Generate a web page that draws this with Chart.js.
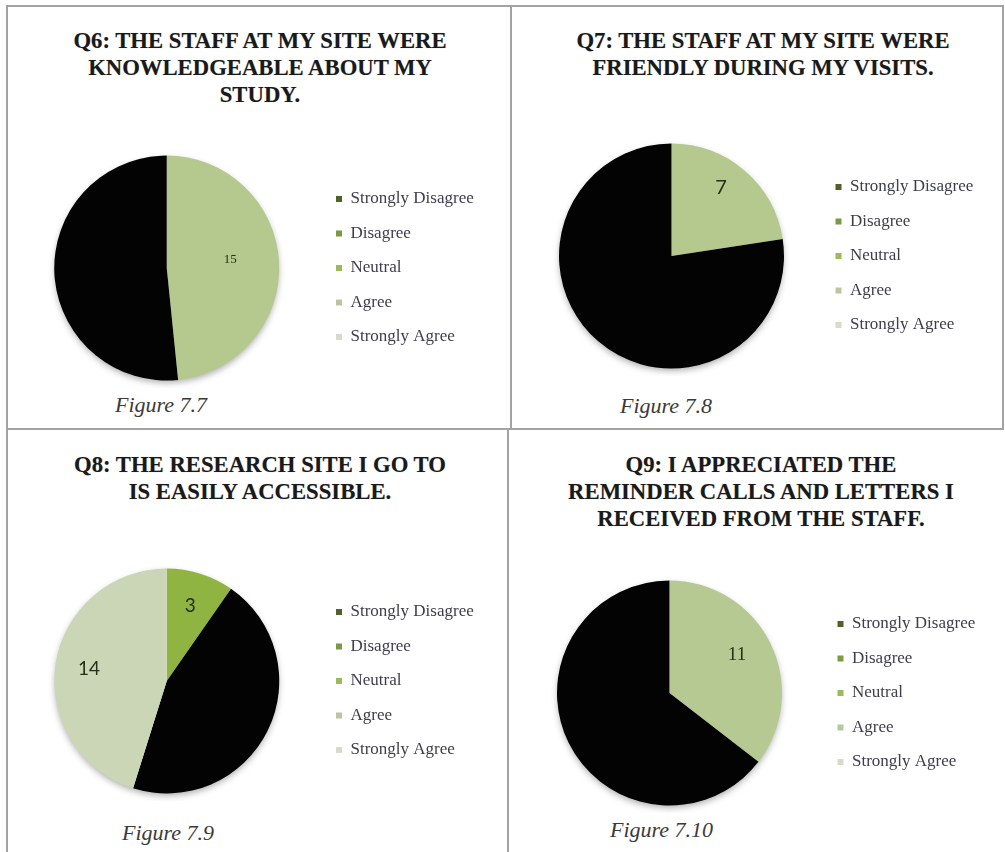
<!DOCTYPE html>
<html>
<head>
<meta charset="utf-8">
<script src="https://cdn.jsdelivr.net/npm/chart.js@4"></script>
<style>
  html, body { margin: 0; padding: 0; background: #fff; }
  #page { position: relative; width: 1005px; height: 852px; overflow: hidden; background: #fff; }
  .rule { position: absolute; background: #a3a3a3; }
  .title {
    position: absolute; width: 500px; text-align: center;
    font: bold 22.7px/27px "Liberation Serif", "Times New Roman", serif;
    color: #1a1a1a; text-shadow: 0 0 1px rgba(0,0,0,0.3);
  }
  .caption {
    position: absolute; white-space: nowrap;
    font: italic 22px/22px "Liberation Serif", "Times New Roman", serif;
    color: #3a3a3a;
  }
  canvas { position: absolute; }
</style>
</head>
<body>
<div id="page">
  <!-- frame lines -->
  <div class="rule" style="left:6px; top:5px; width:2px; height:847px;"></div>
  <div class="rule" style="left:6px; top:5px; width:998px; height:2px;"></div>
  <div class="rule" style="left:1002px; top:5px; width:2px; height:424px;"></div>
  <div class="rule" style="left:510px; top:5px; width:2px; height:424px;"></div>
  <div class="rule" style="left:507px; top:428px; width:2px; height:424px;"></div>
  <div class="rule" style="left:6px; top:428px; width:998px; height:2px;"></div>

  <div class="title" id="t6" style="left:10px; top:27px;"></div>
  <div class="title" id="t7" style="left:513px; top:27px;"></div>
  <div class="title" id="t8" style="left:10px; top:451px;"></div>
  <div class="title" id="t9" style="left:511px; top:451px;"></div>

  <canvas id="c6" width="480" height="240" style="left:15px; top:148px;"></canvas>
  <canvas id="c7" width="470" height="240" style="left:525px; top:136px;"></canvas>
  <canvas id="c8" width="480" height="240" style="left:15px; top:561px;"></canvas>
  <canvas id="c9" width="478" height="240" style="left:519px; top:573px;"></canvas>

  <div class="caption" id="f6" style="left:115px; top:394px;"></div>
  <div class="caption" id="f7" style="left:620px; top:395px;"></div>
  <div class="caption" id="f8" style="left:122px; top:822px;"></div>
  <div class="caption" id="f9" style="left:610px; top:819px;"></div>
</div>

<script>
// ─── Data ─────────────────────────────────────────────
const categories = ['Strongly Disagree', 'Disagree', 'Neutral', 'Agree', 'Strongly Agree'];

const q6Values = [0, 0, 0, 15, 16];
const q7Values = [0, 0, 0, 7, 24];
const q8Values = [0, 0, 3, 14, 14];
const q9Values = [0, 0, 0, 11, 20];

const q6Title = ['Q6: THE STAFF AT MY SITE WERE', 'KNOWLEDGEABLE ABOUT MY', 'STUDY.'];
const q7Title = ['Q7: THE STAFF AT MY SITE WERE', 'FRIENDLY DURING MY VISITS.'];
const q8Title = ['Q8: THE RESEARCH SITE I GO TO', 'IS EASILY ACCESSIBLE.'];
const q9Title = ['Q9: I APPRECIATED THE', 'REMINDER CALLS AND LETTERS I', 'RECEIVED FROM THE STAFF.'];

const captions = ['Figure 7.7', 'Figure 7.8', 'Figure 7.9', 'Figure 7.10'];

// ─── Colours ──────────────────────────────────────────
const BLACK = '#030303';
const legendColors = ['#4f6228', '#7a9a44', '#9bbb59', '#b9c7a0', '#d5dcc8'];

const q6Colors = ['#4f6228', '#77933c', '#9bbb59', '#b5c98f', BLACK];
const q7Colors = ['#4f6228', '#77933c', '#9bbb59', '#b5c98f', BLACK];
const q8Colors = ['#4f6228', '#77933c', '#8fb441', BLACK, '#cbd6b6'];
const q9Colors = ['#4f6228', '#77933c', '#9bbb59', '#b6c992', BLACK];

// ─── Text ─────────────────────────────────────────────
document.getElementById('t6').innerHTML = q6Title.join('<br>');
document.getElementById('t7').innerHTML = q7Title.join('<br>');
document.getElementById('t8').innerHTML = q8Title.join('<br>');
document.getElementById('t9').innerHTML = q9Title.join('<br>');
['f6', 'f7', 'f8', 'f9'].forEach((id, i) => {
    document.getElementById(id).textContent = captions[i];
});

// ─── Plugins ──────────────────────────────────────────
// keep the legend column the same width on every chart
const fixedLegendWidth = {
    id: 'fixedLegendWidth',
    beforeInit(chart, args, opts) {
        const legend = chart.legend;
        if (!legend) return;
        const fit = legend.fit;
        legend.fit = function () {
            fit.call(this);
            this.width = opts.width;
        };
    },
};

// soft shadow under the pie + value labels on the coloured slices
const sliceLabels = {
    id: 'sliceLabels',
    beforeDatasetsDraw(chart) {
        const arc = chart.getDatasetMeta(0).data[0];
        if (!arc) return;
        const ctx = chart.ctx;
        ctx.save();
        ctx.shadowColor = 'rgba(0,0,0,0.35)';
        ctx.shadowBlur = 7;
        ctx.shadowOffsetY = 3;
        ctx.fillStyle = '#ffffff';
        ctx.beginPath();
        ctx.arc(arc.x, arc.y, arc.outerRadius - 1, 0, Math.PI * 2);
        ctx.fill();
        ctx.restore();
    },
    afterDatasetsDraw(chart, args, opts) {
        const ctx  = chart.ctx;
        const ds   = chart.data.datasets[0];
        const meta = chart.getDatasetMeta(0);
        ctx.save();
        ctx.font = opts.font;
        ctx.fillStyle = opts.color;
        ctx.textAlign = 'center';
        ctx.textBaseline = 'middle';
        meta.data.forEach((arc, i) => {
            const v = ds.data[i];
            if (!v || ds.backgroundColor[i] === BLACK) return;
            const mid = (arc.startAngle + arc.endAngle) / 2 + opts.shift;
            const r = arc.outerRadius * opts.radius;
            ctx.fillText(String(v), arc.x + Math.cos(mid) * r, arc.y + Math.sin(mid) * r);
        });
        ctx.restore();
    },
};

// ─── Chart factory ────────────────────────────────────
function makePie(id, values, colors, legendWidth, labelFont, labelRadius, labelShift) {
    return new Chart(document.getElementById(id), {
        type: 'pie',
        data: {
            labels: categories,
            datasets: [{
                data: values,
                backgroundColor: colors,
                borderWidth: 0,
                hoverOffset: 0,
            }],
        },
        options: {
            responsive: false,
            animation: false,
            devicePixelRatio: 1,
            layout: { padding: { top: 7.5, bottom: 7.5, left: 0, right: 0 } },
            plugins: {
                tooltip: { enabled: false },
                fixedLegendWidth: { width: legendWidth },
                sliceLabels: { font: labelFont, color: '#26301a', radius: labelRadius, shift: labelShift },
                legend: {
                    position: 'right',
                    labels: {
                        boxWidth: 6,
                        boxHeight: 6,
                        padding: 17.5,
                        color: '#3d3d4d',
                        font: { family: '"Liberation Serif", "Times New Roman", serif', size: 17 },
                        generateLabels: chart => chart.data.labels.map((text, i) => ({
                            text,
                            fillStyle: legendColors[i],
                            strokeStyle: legendColors[i],
                            lineWidth: 0,
                            fontColor: '#3d3d4d',
                            hidden: false,
                            index: i,
                        })),
                    },
                },
            },
        },
        plugins: [fixedLegendWidth, sliceLabels],
    });
}

// ─── Init ─────────────────────────────────────────────
makePie('c6', q6Values, q6Colors, 176.5, '13px "Liberation Serif", serif', 0.57, -0.08);
makePie('c7', q7Values, q7Colors, 177,   '20px Lato, "Liberation Sans", sans-serif', 0.75, -0.08);
makePie('c8', q8Values, q8Colors, 176.5, '19px Lato, "Liberation Sans", sans-serif', 0.70, 0);
makePie('c9', q9Values, q9Colors, 177,   '19px "Liberation Serif", serif', 0.69, -0.06);
</script>
</body>
</html>
